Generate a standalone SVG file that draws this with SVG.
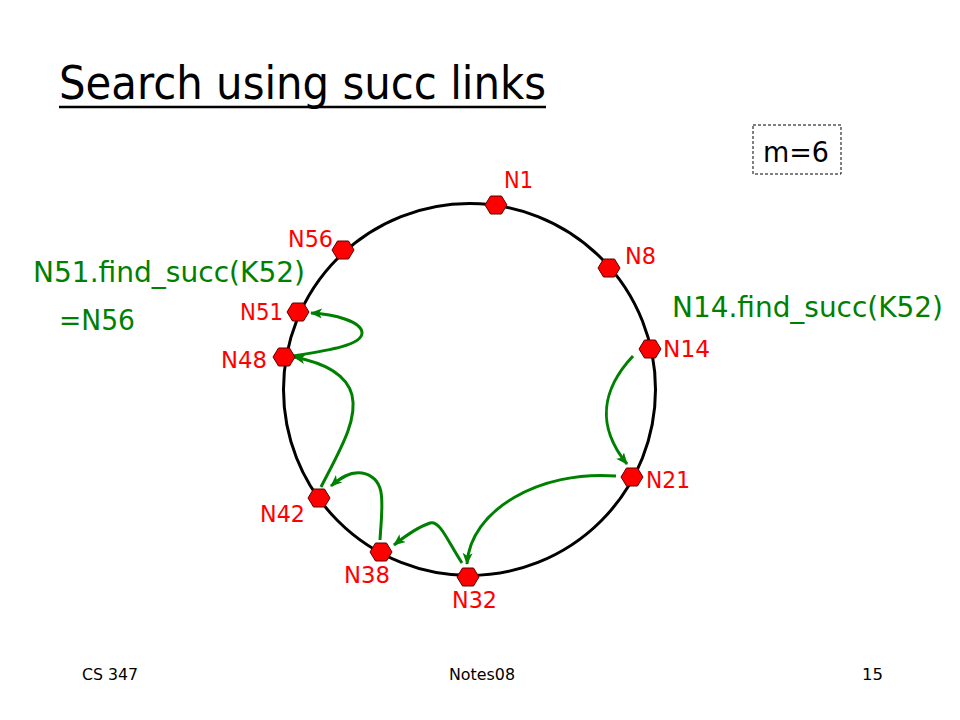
<svg xmlns="http://www.w3.org/2000/svg" width="960" height="720" viewBox="0 0 960 720">
  <style>
    text { font-family: "DejaVu Sans", Verdana, sans-serif; }
    .title { font-size: 46px; fill: #000; }
    .green { font-size: 28px; fill: #008000; }
    .lbl { font-size: 23px; fill: #ff0000; }
    .foot { font-size: 16px; fill: #000; }
    .hex { fill: #ff0000; stroke: #5a0000; stroke-width: 1; }
    .arrow { fill: none; stroke: #008000; stroke-width: 3; marker-end: url(#ah); }
  </style>
  <defs>
    <marker id="ah" markerUnits="userSpaceOnUse" markerWidth="14" markerHeight="12" refX="11" refY="5" orient="auto">
      <path d="M0,0 L12,5 L0,10 L3,5 z" fill="#008000"/>
    </marker>
    <polygon id="hexshape" points="-11,0 -5.5,-9 5.5,-9 11,0 5.5,9 -5.5,9"/>
  </defs>
  <rect width="960" height="720" fill="#fff"/>

  <g id="title">
    <text class="title" x="59" y="99" textLength="487" lengthAdjust="spacingAndGlyphs">Search using succ links</text>
    <line x1="59" y1="107" x2="546" y2="107" stroke="#000" stroke-width="2.5"/>
  </g>

  <g id="param">
    <rect x="753" y="125" width="88" height="49" fill="none" stroke="#000" stroke-width="1" stroke-dasharray="3,2"/>
    <text x="763" y="162" font-size="28" textLength="66" lengthAdjust="spacingAndGlyphs">m=6</text>
  </g>

  <g id="ring">
    <circle cx="469.5" cy="389.5" r="186" fill="none" stroke="#000" stroke-width="3"/>
  </g>

  <g id="connectors">
    <path class="arrow" d="M633,356 C603,388 595,425 627,464"/>
    <path class="arrow" d="M616,476 C540,470 470,510 467,564"/>
    <path class="arrow" d="M462,563 C448,542 440,520 430,523 C418,527 404,537 394,545"/>
    <path class="arrow" d="M380,540 C382,505 388,478 362,473 C350,471 340,478 331,486"/>
    <path class="arrow" d="M321,487 C340,450 358,420 352,395 C346,372 320,362 294,357"/>
    <path class="arrow" d="M293,356 C330,350 362,345 362,333 C362,322 335,314 311,313"/>
  </g>

  <g id="N1"><use href="#hexshape" class="hex" x="496" y="205"/><text class="lbl" x="504" y="188" textLength="29" lengthAdjust="spacingAndGlyphs">N1</text></g>
  <g id="N8"><use href="#hexshape" class="hex" x="609" y="268"/><text class="lbl" x="625" y="264" textLength="31" lengthAdjust="spacingAndGlyphs">N8</text></g>
  <g id="N14"><use href="#hexshape" class="hex" x="650" y="349"/><text class="lbl" x="663" y="357" textLength="47" lengthAdjust="spacingAndGlyphs">N14</text></g>
  <g id="N21"><use href="#hexshape" class="hex" x="632" y="477"/><text class="lbl" x="646" y="488" textLength="44" lengthAdjust="spacingAndGlyphs">N21</text></g>
  <g id="N32"><use href="#hexshape" class="hex" x="468" y="577"/><text class="lbl" x="452" y="608" textLength="45" lengthAdjust="spacingAndGlyphs">N32</text></g>
  <g id="N38"><use href="#hexshape" class="hex" x="381" y="552"/><text class="lbl" x="344" y="583" textLength="46" lengthAdjust="spacingAndGlyphs">N38</text></g>
  <g id="N42"><use href="#hexshape" class="hex" x="319" y="498"/><text class="lbl" x="260" y="522" textLength="45" lengthAdjust="spacingAndGlyphs">N42</text></g>
  <g id="N48"><use href="#hexshape" class="hex" x="284" y="357"/><text class="lbl" x="221" y="368" textLength="46" lengthAdjust="spacingAndGlyphs">N48</text></g>
  <g id="N51"><use href="#hexshape" class="hex" x="298" y="312"/><text class="lbl" x="240" y="320" textLength="43" lengthAdjust="spacingAndGlyphs">N51</text></g>
  <g id="N56"><use href="#hexshape" class="hex" x="343" y="250"/><text class="lbl" x="288" y="247" textLength="45" lengthAdjust="spacingAndGlyphs">N56</text></g>

  <g id="annotations">
    <text class="green" x="33" y="282" textLength="272" lengthAdjust="spacingAndGlyphs">N51.find_succ(K52)</text>
    <text class="green" x="59" y="330" textLength="76" lengthAdjust="spacingAndGlyphs">=N56</text>
    <text class="green" x="672" y="317" textLength="271" lengthAdjust="spacingAndGlyphs">N14.find_succ(K52)</text>
  </g>

  <g id="footer">
    <text class="foot" x="82" y="680" textLength="56" lengthAdjust="spacingAndGlyphs">CS 347</text>
    <text class="foot" x="449" y="680" textLength="66" lengthAdjust="spacingAndGlyphs">Notes08</text>
    <text class="foot" x="862" y="680" textLength="21" lengthAdjust="spacingAndGlyphs">15</text>
  </g>
</svg>
